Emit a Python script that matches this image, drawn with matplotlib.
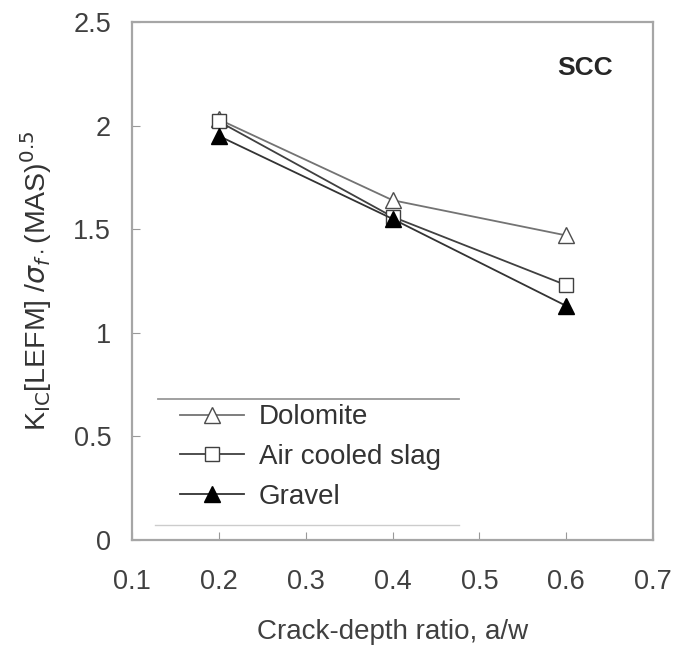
import matplotlib.pyplot as plt

plt.rcParams["font.family"] = ["Liberation Sans", "DejaVu Sans"]

ratio = [0.2, 0.4, 0.6]
dolomite = [2.03, 1.64, 1.47]
air_cooled_slag = [2.02, 1.56, 1.23]
gravel = [1.95, 1.55, 1.13]

fig = plt.figure(figsize=(6.75, 6.49), dpi=100)
ax = fig.add_axes([132 / 675, 109 / 649, 521 / 675, 518 / 649])

ax.plot(ratio, dolomite, color="0.45", lw=1.3, marker="^", ms=11,
        mfc="white", mec="0.3", label="Dolomite")
ax.plot(ratio, air_cooled_slag, color="0.25", lw=1.3, marker="s", ms=10,
        mfc="white", mec="0.25", label="Air cooled slag")
ax.plot(ratio, gravel, color="0.2", lw=1.3, marker="^", ms=11,
        mfc="black", mec="black", label="Gravel")

ax.set_xlim(0.1, 0.7)
ax.set_ylim(0, 2.5)
ax.set_xticks([0.1, 0.2, 0.3, 0.4, 0.5, 0.6, 0.7])
ax.set_yticks([0, 0.5, 1, 1.5, 2, 2.5])
ax.set_yticklabels(["0", "0.5", "1", "1.5", "2", "2.5"])
ax.tick_params(direction="in", length=6, color="0.6", labelsize=19.5,
               labelcolor="0.25")
ax.tick_params(axis="x", pad=21)
ax.tick_params(axis="y", pad=15)
for s in ax.spines.values():
    s.set_color("0.65")
    s.set_linewidth(1.6)

ax.set_xlabel("Crack-depth ratio, a/w", fontsize=20, color="0.25", labelpad=17)
ax.set_ylabel(r"K$_{\rm IC}$[LEFM] /$\sigma_{f\cdot}$(MAS)$^{0.5}$",
              fontsize=20.5, color="0.2", labelpad=14)

ax.text(0.622, 2.28, "SCC", fontsize=19, fontweight="bold", ha="center",
        va="center", color="0.15")

leg = ax.legend(loc="upper left", bbox_to_anchor=(0.092, 0.262),
                fontsize=20, frameon=False, handlelength=2.3,
                handletextpad=0.55, labelspacing=0.5, borderpad=0,
                borderaxespad=0)
for t in leg.get_texts():
    t.set_color("0.2")

# rules above and below the legend
ax.plot([0.05, 0.627], [0.273, 0.273], transform=ax.transAxes,
        color="0.6", lw=1.3)
ax.plot([0.045, 0.627], [0.029, 0.029], transform=ax.transAxes,
        color="0.8", lw=1.0)

fig.savefig("out.png", dpi=100)
